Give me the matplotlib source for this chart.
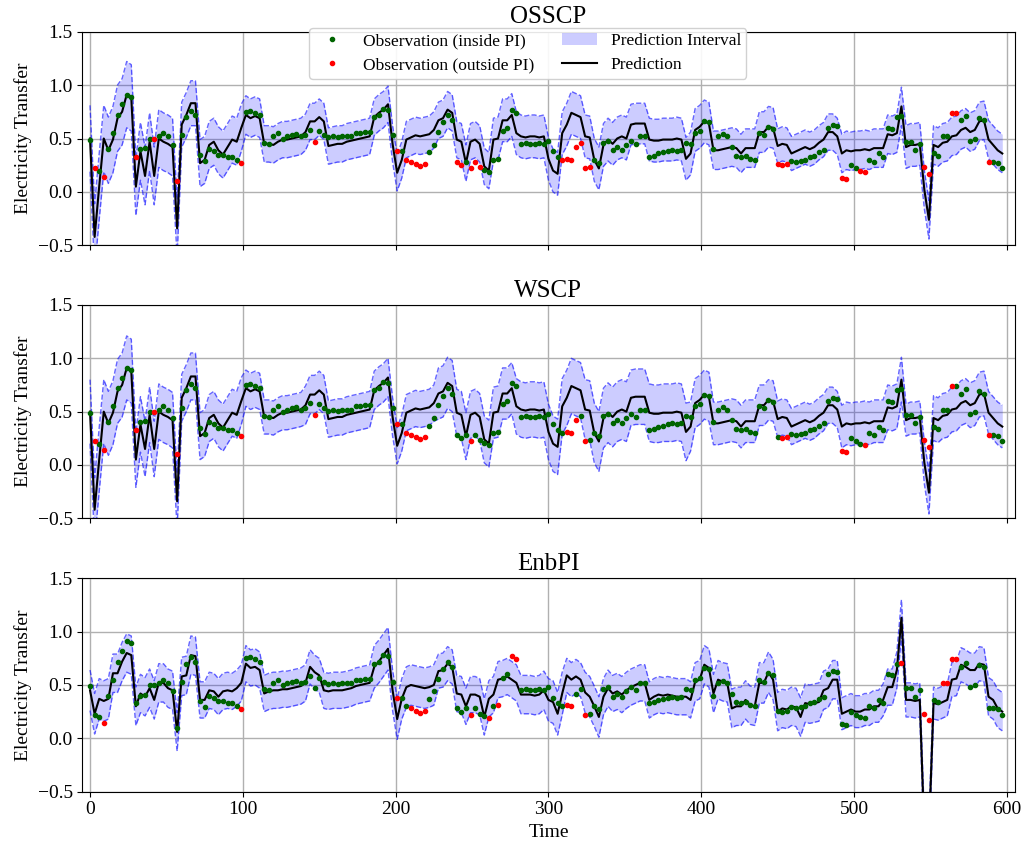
import numpy as np
import matplotlib
matplotlib.use("Agg")
import matplotlib.pyplot as plt
from matplotlib.lines import Line2D
from matplotlib.patches import Patch

plt.rcParams["font.family"] = ["Liberation Serif", "DejaVu Serif"]

# one reading every 3 time steps
time = np.arange(0, 600, 3)

# observed electricity transfer (same series in all three panels)
observed = [
    0.49, 0.22, 0.20, 0.14, 0.40, 0.55, 0.72, 0.82, 0.91, 0.89,
    0.33, 0.40, 0.41, 0.50, 0.50, 0.52, 0.55, 0.52, 0.44, 0.10,
    0.53, 0.70, 0.76, 0.72, 0.35, 0.29, 0.40, 0.38, 0.35, 0.35,
    0.33, 0.33, 0.30, 0.27, 0.75, 0.76, 0.74, 0.72, 0.46, 0.45,
    0.52, 0.55, 0.50, 0.52, 0.53, 0.54, 0.52, 0.53, 0.58, 0.47,
    0.57, 0.53, 0.51, 0.52, 0.51, 0.52, 0.52, 0.52, 0.55, 0.55,
    0.56, 0.56, 0.70, 0.72, 0.78, 0.77, 0.53, 0.38, 0.38, 0.30,
    0.28, 0.26, 0.24, 0.26, 0.37, 0.44, 0.56, 0.65, 0.72, 0.67,
    0.28, 0.25, 0.28, 0.22, 0.28, 0.23, 0.21, 0.19, 0.30, 0.31,
    0.57, 0.60, 0.77, 0.74, 0.45, 0.46, 0.45, 0.45, 0.46, 0.45,
    0.48, 0.38, 0.33, 0.30, 0.31, 0.30, 0.42, 0.46, 0.22, 0.23,
    0.30, 0.27, 0.46, 0.48, 0.39, 0.42, 0.39, 0.44, 0.48, 0.45,
    0.52, 0.52, 0.33, 0.34, 0.36, 0.37, 0.38, 0.39, 0.38, 0.39,
    0.46, 0.45, 0.55, 0.57, 0.66, 0.65, 0.40, 0.52, 0.54, 0.52,
    0.42, 0.34, 0.33, 0.34, 0.31, 0.30, 0.55, 0.53, 0.61, 0.59,
    0.26, 0.25, 0.26, 0.29, 0.28, 0.29, 0.30, 0.33, 0.34, 0.37,
    0.39, 0.60, 0.63, 0.62, 0.13, 0.12, 0.25, 0.22, 0.20, 0.19,
    0.30, 0.28, 0.36, 0.33, 0.60, 0.59, 0.70, 0.71, 0.47, 0.47,
    0.39, 0.45, 0.23, 0.17, 0.36, 0.34, 0.52, 0.52, 0.74, 0.74,
    0.67, 0.71, 0.48, 0.50, 0.69, 0.67, 0.28, 0.28, 0.27, 0.22,
]

# point prediction used by OSSCP and WSCP
pred_cp = [
    0.50, -0.42, 0.05, 0.50, 0.39, 0.49, 0.69, 0.75, 0.91, 0.88,
    0.05, 0.38, 0.15, 0.47, 0.15, 0.50, 0.47, 0.45, 0.42, -0.34,
    0.63, 0.72, 0.83, 0.83, 0.27, 0.30, 0.44, 0.47, 0.39, 0.35,
    0.42, 0.49, 0.47, 0.60, 0.72, 0.69, 0.71, 0.69, 0.45, 0.45,
    0.44, 0.47, 0.49, 0.49, 0.50, 0.51, 0.52, 0.56, 0.66, 0.66,
    0.70, 0.66, 0.43, 0.44, 0.45, 0.45, 0.47, 0.48, 0.49, 0.50,
    0.51, 0.52, 0.70, 0.74, 0.77, 0.82, 0.45, 0.18, 0.30, 0.49,
    0.51, 0.53, 0.52, 0.53, 0.54, 0.58, 0.67, 0.69, 0.77, 0.74,
    0.49, 0.47, 0.27, 0.47, 0.49, 0.45, 0.24, 0.20, 0.49, 0.50,
    0.67, 0.67, 0.72, 0.55, 0.52, 0.51, 0.52, 0.52, 0.51, 0.52,
    0.31, 0.20, 0.17, 0.55, 0.63, 0.74, 0.72, 0.70, 0.52, 0.51,
    0.30, 0.22, 0.44, 0.49, 0.45, 0.50, 0.52, 0.50, 0.63, 0.64,
    0.64, 0.64, 0.49, 0.48, 0.48, 0.49, 0.49, 0.49, 0.50, 0.49,
    0.31, 0.36, 0.58, 0.61, 0.66, 0.64, 0.39, 0.39, 0.40, 0.41,
    0.42, 0.41, 0.36, 0.41, 0.41, 0.41, 0.56, 0.56, 0.61, 0.60,
    0.43, 0.45, 0.44, 0.36, 0.38, 0.40, 0.42, 0.40, 0.42, 0.46,
    0.49, 0.56, 0.56, 0.52, 0.36, 0.39, 0.38, 0.39, 0.39, 0.40,
    0.39, 0.41, 0.41, 0.41, 0.54, 0.53, 0.55, 0.80, 0.42, 0.44,
    0.44, 0.45, 0.02, -0.26, 0.44, 0.42, 0.46, 0.47, 0.52, 0.53,
    0.58, 0.60, 0.56, 0.58, 0.66, 0.67, 0.49, 0.44, 0.39, 0.36,
]

# point prediction of EnbPI
pred_enbpi = [
    0.45, 0.23, 0.37, 0.35, 0.37, 0.61, 0.61, 0.72, 0.80, 0.78,
    0.30, 0.42, 0.39, 0.47, 0.36, 0.52, 0.52, 0.47, 0.45, 0.06,
    0.58, 0.59, 0.78, 0.77, 0.36, 0.36, 0.45, 0.44, 0.39, 0.44,
    0.45, 0.44, 0.47, 0.52, 0.70, 0.66, 0.67, 0.64, 0.42, 0.44,
    0.45, 0.45, 0.46, 0.46, 0.47, 0.48, 0.49, 0.52, 0.67, 0.62,
    0.59, 0.45, 0.44, 0.45, 0.45, 0.45, 0.46, 0.47, 0.49, 0.50,
    0.51, 0.52, 0.67, 0.72, 0.78, 0.84, 0.45, 0.18, 0.37, 0.48,
    0.50, 0.49, 0.48, 0.47, 0.48, 0.50, 0.63, 0.64, 0.70, 0.67,
    0.42, 0.41, 0.30, 0.41, 0.41, 0.39, 0.20, 0.37, 0.41, 0.55,
    0.56, 0.58, 0.55, 0.52, 0.41, 0.41, 0.41, 0.40, 0.41, 0.45,
    0.36, 0.34, 0.23, 0.42, 0.59, 0.55, 0.58, 0.55, 0.43, 0.39,
    0.30, 0.20, 0.39, 0.47, 0.42, 0.44, 0.41, 0.45, 0.48, 0.50,
    0.52, 0.52, 0.36, 0.39, 0.41, 0.40, 0.41, 0.40, 0.39, 0.39,
    0.39, 0.36, 0.53, 0.55, 0.69, 0.66, 0.42, 0.55, 0.53, 0.52,
    0.28, 0.30, 0.30, 0.36, 0.31, 0.30, 0.52, 0.52, 0.62, 0.55,
    0.25, 0.28, 0.27, 0.30, 0.29, 0.20, 0.33, 0.32, 0.33, 0.34,
    0.45, 0.47, 0.55, 0.55, 0.23, 0.25, 0.27, 0.25, 0.25, 0.27,
    0.27, 0.30, 0.30, 0.36, 0.48, 0.48, 0.64, 1.13, 0.36, 0.36,
    0.35, 0.36, -0.90, -0.90, 0.33, 0.32, 0.34, 0.36, 0.55, 0.56,
    0.69, 0.67, 0.64, 0.64, 0.70, 0.69, 0.39, 0.36, 0.28, 0.25,
]

# half width of each prediction interval
halfwidth_osscp = [
    0.31, 0.31, 0.31, 0.31, 0.31, 0.31, 0.31, 0.31, 0.31, 0.31,
    0.27, 0.27, 0.27, 0.27, 0.27, 0.27, 0.27, 0.27, 0.27, 0.27,
    0.21, 0.21, 0.21, 0.21, 0.22, 0.22, 0.22, 0.22, 0.22, 0.22,
    0.22, 0.22, 0.22, 0.22, 0.18, 0.18, 0.18, 0.18, 0.17, 0.17,
    0.17, 0.17, 0.17, 0.17, 0.17, 0.17, 0.17, 0.17, 0.17, 0.17,
    0.17, 0.17, 0.17, 0.17, 0.17, 0.17, 0.17, 0.17, 0.17, 0.17,
    0.17, 0.17, 0.17, 0.17, 0.17, 0.17, 0.17, 0.17, 0.17, 0.17,
    0.17, 0.17, 0.17, 0.17, 0.17, 0.17, 0.17, 0.17, 0.17, 0.17,
    0.17, 0.17, 0.17, 0.17, 0.17, 0.17, 0.17, 0.17, 0.20, 0.20,
    0.20, 0.20, 0.20, 0.20, 0.20, 0.20, 0.20, 0.20, 0.20, 0.20,
    0.20, 0.20, 0.20, 0.20, 0.20, 0.20, 0.20, 0.20, 0.20, 0.20,
    0.20, 0.20, 0.20, 0.20, 0.20, 0.20, 0.20, 0.20, 0.19, 0.19,
    0.19, 0.19, 0.20, 0.20, 0.20, 0.20, 0.20, 0.20, 0.20, 0.20,
    0.20, 0.20, 0.20, 0.20, 0.20, 0.20, 0.18, 0.18, 0.18, 0.18,
    0.18, 0.18, 0.18, 0.18, 0.18, 0.18, 0.19, 0.19, 0.19, 0.19,
    0.16, 0.16, 0.16, 0.16, 0.16, 0.16, 0.16, 0.16, 0.16, 0.16,
    0.16, 0.17, 0.17, 0.17, 0.18, 0.18, 0.18, 0.18, 0.18, 0.18,
    0.18, 0.18, 0.18, 0.18, 0.18, 0.18, 0.18, 0.18, 0.20, 0.20,
    0.20, 0.20, 0.18, 0.18, 0.18, 0.18, 0.18, 0.18, 0.18, 0.18,
    0.18, 0.18, 0.18, 0.18, 0.18, 0.18, 0.18, 0.18, 0.18, 0.18,
]

halfwidth_wscp = [
    0.30, 0.30, 0.30, 0.30, 0.30, 0.30, 0.30, 0.30, 0.30, 0.30,
    0.26, 0.26, 0.26, 0.26, 0.26, 0.26, 0.26, 0.26, 0.26, 0.26,
    0.22, 0.22, 0.22, 0.22, 0.22, 0.22, 0.22, 0.22, 0.22, 0.22,
    0.22, 0.22, 0.22, 0.22, 0.17, 0.17, 0.17, 0.17, 0.16, 0.16,
    0.16, 0.16, 0.16, 0.16, 0.16, 0.16, 0.16, 0.18, 0.18, 0.18,
    0.18, 0.18, 0.17, 0.17, 0.17, 0.17, 0.17, 0.17, 0.17, 0.17,
    0.17, 0.17, 0.18, 0.18, 0.18, 0.18, 0.18, 0.17, 0.17, 0.17,
    0.17, 0.17, 0.17, 0.17, 0.17, 0.17, 0.24, 0.24, 0.24, 0.24,
    0.22, 0.22, 0.22, 0.22, 0.22, 0.22, 0.22, 0.22, 0.24, 0.24,
    0.24, 0.24, 0.24, 0.26, 0.26, 0.26, 0.26, 0.26, 0.26, 0.26,
    0.26, 0.26, 0.26, 0.26, 0.26, 0.26, 0.26, 0.26, 0.28, 0.28,
    0.28, 0.28, 0.28, 0.28, 0.28, 0.28, 0.28, 0.28, 0.26, 0.26,
    0.26, 0.26, 0.27, 0.27, 0.27, 0.27, 0.27, 0.27, 0.27, 0.27,
    0.27, 0.23, 0.23, 0.23, 0.23, 0.23, 0.20, 0.20, 0.20, 0.20,
    0.20, 0.20, 0.20, 0.20, 0.20, 0.20, 0.19, 0.19, 0.19, 0.19,
    0.17, 0.17, 0.17, 0.17, 0.17, 0.17, 0.17, 0.17, 0.17, 0.17,
    0.17, 0.17, 0.17, 0.17, 0.20, 0.20, 0.20, 0.20, 0.20, 0.20,
    0.20, 0.20, 0.20, 0.20, 0.21, 0.21, 0.21, 0.21, 0.15, 0.15,
    0.15, 0.15, 0.20, 0.20, 0.21, 0.21, 0.21, 0.21, 0.21, 0.21,
    0.21, 0.21, 0.21, 0.21, 0.21, 0.21, 0.20, 0.20, 0.20, 0.20,
]

halfwidth_enbpi = [
    0.19, 0.19, 0.19, 0.19, 0.19, 0.18, 0.18, 0.18, 0.18, 0.18,
    0.18, 0.18, 0.18, 0.18, 0.18, 0.18, 0.18, 0.18, 0.18, 0.18,
    0.18, 0.18, 0.18, 0.18, 0.17, 0.17, 0.17, 0.17, 0.17, 0.17,
    0.17, 0.17, 0.17, 0.17, 0.17, 0.17, 0.17, 0.17, 0.17, 0.17,
    0.17, 0.17, 0.17, 0.17, 0.17, 0.17, 0.17, 0.17, 0.16, 0.16,
    0.16, 0.17, 0.17, 0.17, 0.17, 0.17, 0.17, 0.17, 0.17, 0.17,
    0.17, 0.17, 0.20, 0.20, 0.20, 0.20, 0.19, 0.19, 0.19, 0.19,
    0.19, 0.19, 0.19, 0.19, 0.19, 0.19, 0.16, 0.16, 0.16, 0.16,
    0.17, 0.17, 0.17, 0.17, 0.17, 0.17, 0.17, 0.17, 0.17, 0.17,
    0.17, 0.17, 0.17, 0.17, 0.18, 0.18, 0.18, 0.18, 0.18, 0.18,
    0.20, 0.20, 0.20, 0.20, 0.16, 0.16, 0.16, 0.16, 0.19, 0.19,
    0.19, 0.19, 0.17, 0.17, 0.17, 0.17, 0.17, 0.17, 0.17, 0.17,
    0.17, 0.17, 0.17, 0.17, 0.17, 0.17, 0.17, 0.17, 0.17, 0.17,
    0.17, 0.17, 0.18, 0.18, 0.18, 0.18, 0.18, 0.18, 0.18, 0.18,
    0.18, 0.18, 0.18, 0.18, 0.18, 0.18, 0.19, 0.19, 0.19, 0.19,
    0.18, 0.18, 0.18, 0.18, 0.18, 0.18, 0.18, 0.18, 0.18, 0.18,
    0.18, 0.18, 0.18, 0.18, 0.15, 0.15, 0.15, 0.15, 0.15, 0.15,
    0.15, 0.15, 0.15, 0.15, 0.17, 0.17, 0.17, 0.17, 0.16, 0.16,
    0.16, 0.16, 0.16, 0.16, 0.15, 0.15, 0.15, 0.15, 0.16, 0.16,
    0.16, 0.16, 0.16, 0.16, 0.16, 0.16, 0.18, 0.18, 0.18, 0.18,
]

panels = [
    ("OSSCP", pred_cp, halfwidth_osscp),
    ("WSCP", pred_cp, halfwidth_wscp),
    ("EnbPI", pred_enbpi, halfwidth_enbpi),
]

obs = np.array(observed)

fig = plt.figure(figsize=(10.26, 8.43), dpi=100)
rects = [
    [0.0803, 0.7088, 0.9085, 0.2538],
    [0.0803, 0.3852, 0.9085, 0.2530],
    [0.0803, 0.0610, 0.9085, 0.2529],
]

axes = []
for i, (name, pred, hw) in enumerate(panels):
    ax = fig.add_axes(rects[i], sharex=axes[0] if axes else None)
    axes.append(ax)

    pred = np.array(pred)
    lower = pred - np.array(hw)
    upper = pred + np.array(hw)
    inside = (obs >= lower) & (obs <= upper)

    # interval band with dashed borders
    ax.fill_between(time, lower, upper, color="blue", alpha=0.2, linewidth=0)
    ax.plot(time, lower, "--", color="blue", alpha=0.6, linewidth=1)
    ax.plot(time, upper, "--", color="blue", alpha=0.6, linewidth=1)
    ax.plot(time, pred, color="black", linewidth=1.5)

    # observations coloured by coverage
    ax.scatter(time[inside], obs[inside], s=9, color="darkgreen", zorder=3)
    ax.scatter(time[~inside], obs[~inside], s=9, color="red", zorder=3)

    ax.set_title(name, fontsize=18)
    ax.set_ylabel("Electricity Transfer", fontsize=14)
    ax.set_ylim(-0.5, 1.5)
    ax.set_yticks([-0.5, 0.0, 0.5, 1.0, 1.5])
    ax.set_xlim(-5, 605)
    ax.set_xticks(range(0, 601, 100))
    ax.tick_params(labelsize=14)
    ax.grid(True, color="#b0b0b0", linewidth=1)
    ax.set_axisbelow(True)
    if i < 2:
        ax.tick_params(labelbottom=False)

axes[-1].set_xlabel("Time", fontsize=14)

handles = [
    Line2D([], [], marker=".", linestyle="", color="darkgreen", markersize=6),
    Line2D([], [], marker=".", linestyle="", color="red", markersize=6),
    Patch(facecolor="blue", alpha=0.2),
    Line2D([], [], color="black", linewidth=1.5),
]
labels = ["Observation (inside PI)", "Observation (outside PI)",
          "Prediction Interval", "Prediction"]
axes[0].legend(handles, labels, loc="upper center", bbox_to_anchor=(0.478, 1.016),
               ncol=2, fontsize=12.5, framealpha=0.9, borderaxespad=0,
               borderpad=0.3, labelspacing=0.45, columnspacing=1.6)

fig.savefig("out.png", dpi=100)
